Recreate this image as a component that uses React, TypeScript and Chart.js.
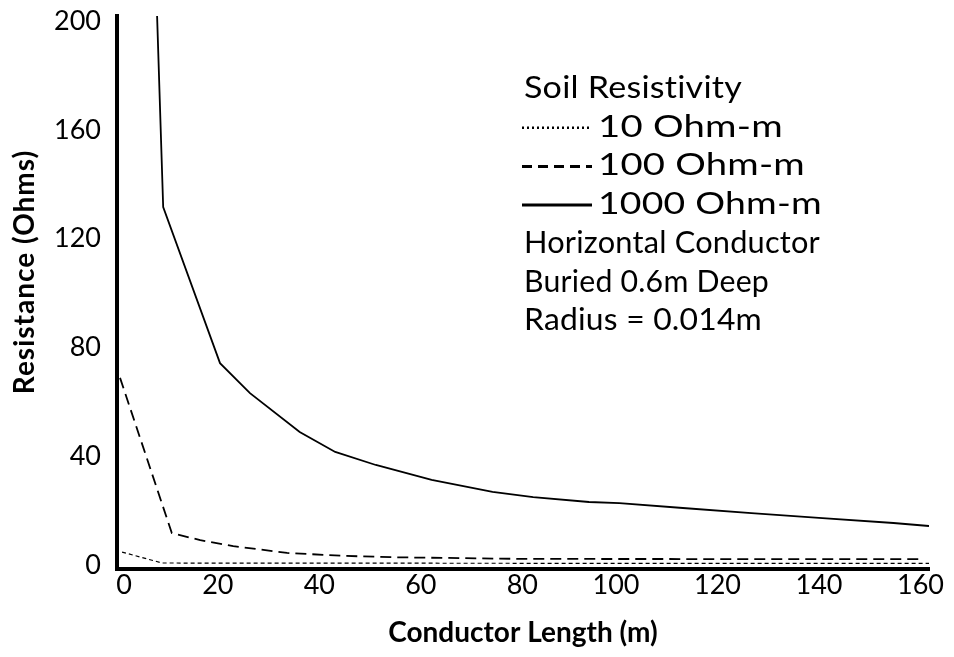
import React, { useEffect, useRef } from "react";
import { Chart, registerables } from "chart.js";

Chart.register(...registerables);

// Conductor length (m) and resistance (Ohms)
const len10 = [1.0, 8.9, 40, 80, 120, 160];
const res10 = [4.9, 0.9, 0.85, 0.8, 0.8, 0.8];

const len100 = [0.6, 10.8, 16.4, 22.9, 33.5, 45, 55, 80, 120, 159];
const res100 = [68.9, 11.9, 9.3, 7.1, 4.6, 3.5, 3.0, 2.4, 2.35, 2.35];

const len1000 = [7.9, 9.1, 20.3, 26.2, 36, 43, 51, 62, 74, 82, 93, 99, 111.5, 125, 139, 153, 160];
const res1000 = [201.8, 131.6, 74.3, 63.3, 49, 41.7, 36.9, 31.4, 27, 25.1, 23.3, 22.9, 21.1, 19.2, 17.4, 15.6, 14.5];

const xTickValues = [0, 20, 40, 60, 80, 100, 120, 140, 160];
const yTickValues = [0, 40, 80, 120, 160, 200];

const seriesLabels = ["10 Ohm-m", "100 Ohm-m", "1000 Ohm-m"];
const legendTitle = "Soil Resistivity";
const notes = ["Horizontal Conductor", "Buried 0.6m Deep", "Radius = 0.014m"];
const xTitle = "Conductor Length (m)";
const yTitle = "Resistance (Ohms)";
const xMin = 0, xMax = 160;
const yMin = -1.3, yMax = 201.8;

const FONT = "Lato, 'Open Sans', sans-serif";

// layout of the legend block (pixels)
const LEGEND_X = 522;
const LEGEND_Y0 = 88;
const LEGEND_ROW = 38.7;
const SAMPLE_LEN = 70;
const LABEL_GAP = 76;
// rendered widths of the legend lines in the reference (pixels)
const titleWidth = 218;
const labelWidths = [185, 207, 224];
const noteWidths = [296, 245, 238];

const toPoints = (xs: number[], ys: number[]) => xs.map((x, i) => ({ x, y: ys[i] }));

function fitText(ctx: CanvasRenderingContext2D, text: string, x: number, y: number, width: number) {
  const w = ctx.measureText(text).width;
  const k = Math.min(1.3, Math.max(0.8, width / w));
  ctx.save();
  ctx.translate(x, y);
  ctx.scale(k, 1);
  ctx.fillText(text, 0, 0);
  ctx.restore();
}

const overlayPlugin = {
  id: "overlay",
  afterDraw(chart: any) {
    const ctx = chart.ctx as CanvasRenderingContext2D;
    ctx.save();
    ctx.fillStyle = "#000";
    ctx.strokeStyle = "#000";
    ctx.textBaseline = "middle";
    ctx.textAlign = "left";
    ctx.font = `31px ${FONT}`;
    (ctx as any).letterSpacing = "0.2px";
    let y = LEGEND_Y0;
    fitText(ctx, legendTitle, LEGEND_X + 2, y, titleWidth);
    const legendDash = [[2, 3], [10, 6], []];
    chart.data.datasets.forEach((ds: any, i: number) => {
      y += LEGEND_ROW;
      ctx.beginPath();
      ctx.setLineDash(legendDash[i]);
      ctx.lineWidth = i === 0 ? 2.5 : 3;
      ctx.moveTo(LEGEND_X, y + 1);
      ctx.lineTo(LEGEND_X + SAMPLE_LEN, y + 1);
      ctx.stroke();
      ctx.setLineDash([]);
      fitText(ctx, ds.label, LEGEND_X + LABEL_GAP, y, labelWidths[i]);
    });
    notes.forEach((t, i) => {
      y += LEGEND_ROW;
      fitText(ctx, t, LEGEND_X + 2, y, noteWidths[i]);
    });
    // y axis title
    ctx.font = `bold 28px ${FONT}`;
    (ctx as any).letterSpacing = "1px";
    ctx.textAlign = "center";
    ctx.translate(25, 272);
    ctx.rotate(-Math.PI / 2);
    ctx.fillText(yTitle, 0, 0);
    ctx.restore();
  },
};

export default function App() {
  const ref = useRef<HTMLCanvasElement>(null);
  useEffect(() => {
    document.body.style.margin = "0";
    const chart = new Chart(ref.current!, {
      type: "line",
      data: {
        datasets: [
          {
            label: seriesLabels[0],
            data: toPoints(len10, res10),
            borderColor: "#000",
            borderWidth: 1.2,
            borderDash: [4, 3],
            pointRadius: 0,
            tension: 0,
          },
          {
            label: seriesLabels[1],
            data: toPoints(len100, res100),
            borderColor: "#000",
            borderWidth: 1.8,
            borderDash: [11, 6],
            pointRadius: 0,
            tension: 0,
          },
          {
            label: seriesLabels[2],
            data: toPoints(len1000, res1000),
            borderColor: "#000",
            borderWidth: 1.8,
            pointRadius: 0,
            tension: 0,
          },
        ],
      },
      options: {
        animation: false,
        responsive: false,
        devicePixelRatio: 1,
        layout: { padding: { top: 16, right: 25, left: 0, bottom: 0 } },
        plugins: { legend: { display: false }, tooltip: { enabled: false } },
        scales: {
          x: {
            type: "linear",
            min: xMin,
            max: xMax,
            afterFit: (s: any) => { s.height = 88; s.paddingLeft = 0; s.paddingRight = 0; },
            afterBuildTicks: (s: any) => { s.ticks = xTickValues.map((v) => ({ value: v })); },
            ticks: { color: "#000", font: { family: FONT, size: 27 }, padding: 0, maxRotation: 0, align: "end", labelOffset: 15 },
            grid: { display: false, drawTicks: false },
            border: { display: true, width: 4, color: "#000" },
            title: { display: true, text: xTitle, color: "#000", font: { family: FONT, size: 28, weight: "bold" }, padding: { top: 0, bottom: 7 } },
          },
          y: {
            type: "linear",
            min: yMin,
            max: yMax,
            afterFit: (s: any) => { s.width = 117; s.paddingTop = 0; s.paddingBottom = 0; },
            afterBuildTicks: (s: any) => { s.ticks = yTickValues.map((v) => ({ value: v })); },
            ticks: { color: "#000", font: { family: FONT, size: 27 }, padding: 16 },
            grid: { display: false, drawTicks: false },
            border: { display: true, width: 4, color: "#000" },
          },
        },
      },
      plugins: [overlayPlugin],
    });
    return () => chart.destroy();
  }, []);
  return <canvas ref={ref} width={954} height={657} style={{ display: "block" }} />;
}
